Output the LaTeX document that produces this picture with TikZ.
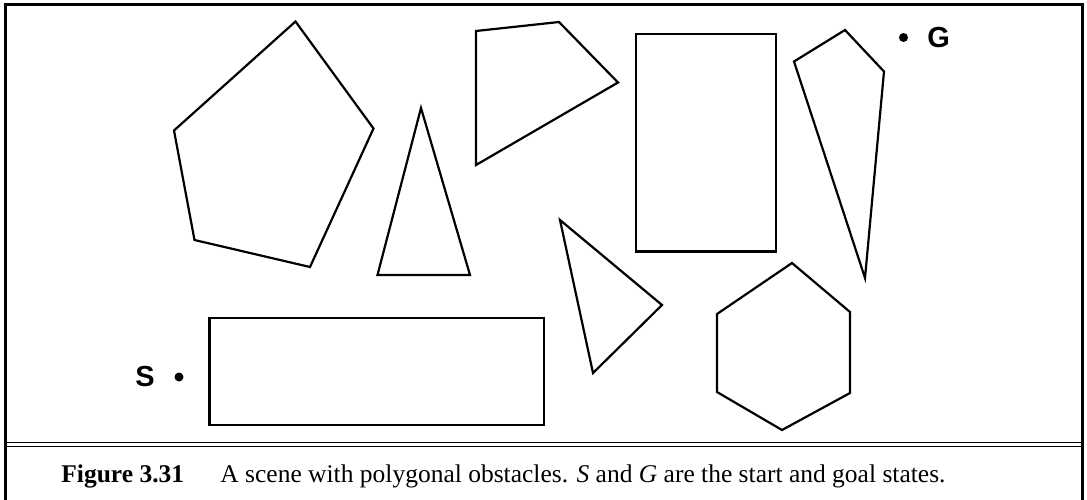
\documentclass[tikz,border=0pt]{standalone}
\usepackage{fontspec}
\setmainfont{Liberation Serif}
\setsansfont{Liberation Sans}
\usetikzlibrary{positioning}

\begin{document}
\begin{tikzpicture}[
    x=0.5pt, y=-0.5pt,
    obstacle/.style={draw, line width=1.1pt, line join=miter},
    frameline/.style={line width=1.5pt},
    ruleline/.style={line width=0.8pt},
    state/.style={circle, fill, inner sep=0pt, minimum size=4.5pt},
    statelbl/.style={font=\sffamily\bfseries\fontsize{14.5}{17}\selectfont, inner sep=0pt},
    caption/.style={font=\fontsize{12.75}{15}\selectfont, inner sep=0pt, anchor=base west},
]
    \useasboundingbox (0,0) rectangle (1087,499);

    \draw[frameline] (5.5,500) -- (5.5,4) -- (1082,4) -- (1082,500);
    \draw[ruleline] (5.5,442.5) -- (1082,442.5);
    \draw[ruleline] (5.5,446.5) -- (1082,446.5);

    \draw[obstacle] (295.5,21.5) -- (373.5,128.5) -- (310,267) -- (194.5,240)
        -- (174,130.5) -- cycle;
    \draw[obstacle] (421,108) -- (470,275) -- (377.5,275) -- cycle;
    \draw[obstacle] (476,31) -- (559,22) -- (618,82.5) -- (476,165) -- cycle;
    \draw[obstacle] (636,34) rectangle (776,251.5);
    \draw[obstacle] (794,61.5) -- (845,30) -- (884,71.5) -- (865,278) -- cycle;
    \draw[obstacle] (560,220) -- (662,305) -- (593,373) -- cycle;
    \draw[obstacle] (792,263) -- (850,312) -- (850,393) -- (782,430)
        -- (717,392) -- (717,314) -- cycle;
    \draw[obstacle] (209.5,318) rectangle (544,425);

    \node[state] (sdot) at (179,377) {};
    \node[statelbl, left=9.5pt of sdot] (slbl) {S};
    \node[state] (gdot) at (903.5,37.5) {};
    \node[statelbl, right=9.3pt of gdot] (glbl) {G};

    \node[caption] (fignum) at (61,482) {\textbf{Figure 3.31}};
    \node[caption] (figtext) at (220,482) {A scene with polygonal obstacles.
        \textit{S} and \textit{G} are the start and goal states.};
\end{tikzpicture}
\end{document}
